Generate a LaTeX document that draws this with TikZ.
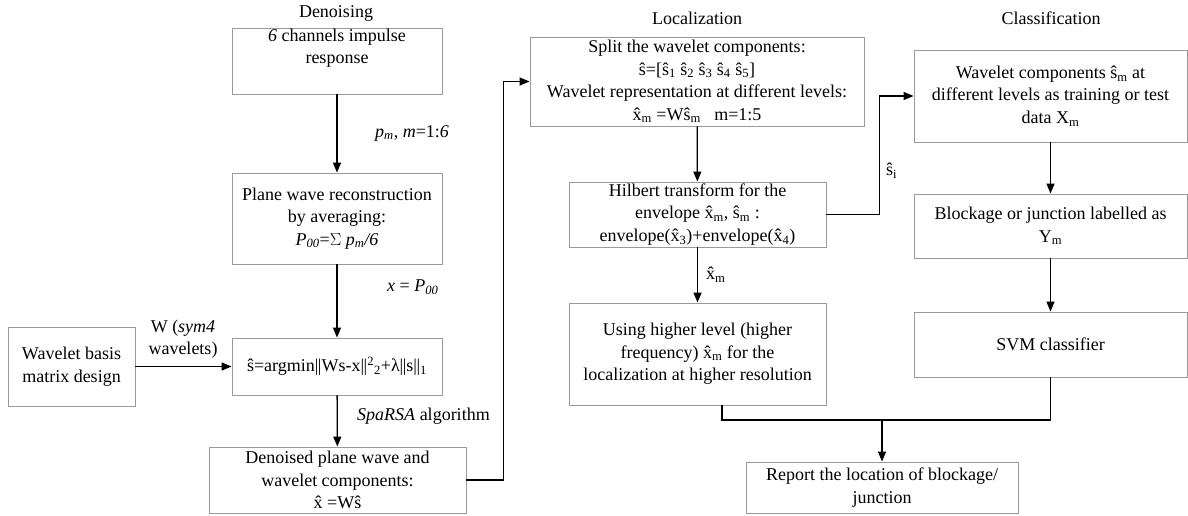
\documentclass[tikz,border=0pt]{standalone}
\usepackage{fontspec}
\setmainfont{Liberation Serif}
\usetikzlibrary{arrows.meta}
\definecolor{boxgray}{HTML}{9A9A9A}
\tikzset{
  box/.style={draw=boxgray, line width=0.9pt, inner sep=0pt, align=center,
    font=\fontsize{18}{22.5}\selectfont},
  lbl/.style={inner sep=0pt, align=center, font=\fontsize{18}{22.5}\selectfont},
  conn/.style={draw=black, line width=1.3pt},
  arr/.style={conn, -{Triangle[length=10pt,width=8pt]}}
}
\newcommand{\hx}{\^{x}}
\newcommand{\hs}{\^{s}}
\newcommand{\sub}[1]{\textsubscript{#1}}
\begin{document}
\begin{tikzpicture}[x=1pt,y=-1pt]
\useasboundingbox (0,0) rectangle (1188,515);

% headers
\node[lbl] (hden) at (336,13) {Denoising};
\node[lbl] (hloc) at (697,18) {Localization};
\node[lbl] (hcls) at (1051,18) {Classification};

% Denoising column
\node[box, minimum width=210pt, minimum height=66pt] (imp) at (337,61)
  {\textit{6} channels impulse\\response\\\strut};
\node[box, minimum width=210pt, minimum height=91pt] (pw) at (337,218.5)
  {Plane wave reconstruction\\by averaging:\\\textit{P\sub{00}}=$\Sigma$ \textit{p\sub{m}/6}};
\node[box, minimum width=210pt, minimum height=57pt] (amin) at (337,366.5)
  {\hs=argmin|\kern-0.5pt|Ws-x|\kern-0.5pt|\textsuperscript{2}\sub{2}+λ|\kern-0.5pt|s|\kern-0.5pt|\sub{1}};
\node[box, minimum width=127pt, minimum height=79pt] (wb) at (71.5,366.5)
  {Wavelet basis\\matrix design};
\node[box, minimum width=257pt, minimum height=66pt] (den) at (337.5,480)
  {Denoised plane wave and\\wavelet components:\\\hx{} =W\hs};

% Localization column
\node[box, minimum width=334pt, minimum height=89pt] (spl) at (697,81.5)
  {Split the wavelet components:\\
   \hs=[\hs\sub{1} \hs\sub{2} \hs\sub{3} \hs\sub{4} \hs\sub{5}]\\
   Wavelet representation at different levels:\\
   \hx\sub{m} =W\hs\sub{m}\ \ \ m=1:5};
\node[box, minimum width=257pt, minimum height=65pt] (hil) at (697.5,214.5)
  {Hilbert transform for the\\envelope \hx\sub{m}, \hs\sub{m} :\\
   envelope(\hx\sub{3})+envelope(\hx\sub{4})};
\node[box, minimum width=257pt, minimum height=102pt] (use) at (697.5,354)
  {Using higher level (higher\\frequency) \hx\sub{m} for the\\localization at higher resolution};
\node[box, minimum width=272pt, minimum height=51pt] (rep) at (882,487.5)
  {Report the location of blockage/\\junction};

% Classification column
\node[box, minimum width=273pt, minimum height=92pt] (wc) at (1050.5,96)
  {Wavelet components \hs\sub{m}\ at\\different levels as training or test\\data X\sub{m}};
\node[box, minimum width=273pt, minimum height=64pt] (blk) at (1050.5,226)
  {Blockage or junction labelled as\\Y\sub{m}};
\node[box, minimum width=273pt, minimum height=65pt] (svm) at (1050.5,344.5)
  {SVM classifier};

% connectors
\draw[arr] (imp) -- (pw);
\node[lbl, anchor=west] (l1) at (375,133) {\textit{p\sub{m}}, \textit{m}=1:\textit{6}};
\draw[arr] (pw) -- (amin);
\node[lbl, anchor=west] (l2) at (387,287) {\textit{x} = \textit{P\sub{00}}};
\draw[arr] (wb) -- (amin);
\node[lbl] (l3) at (183,339) {W (\textit{sym4}\\wavelets)};
\draw[arr] (amin) -- (den);
\node[lbl, anchor=west] (l4) at (357,416) {\textit{SpaRSA} algorithm};
\draw[arr] (den.east) -- ++(37,0) |- (spl.west);

\draw[arr] (spl) -- (hil);
\draw[arr] (hil.east) -- ++(53,0) |- (wc.west);
\node[lbl, anchor=west] (l5) at (886,171) {\hs\sub{i}};
\draw[arr] (hil) -- (use);
\node[lbl, anchor=west] (l6) at (706,275) {\hx\sub{m}};

\draw[arr] (wc) -- (blk);
\draw[arr] (blk) -- (svm);

\coordinate (j) at (882,420);
\draw[conn] ([xshift=24.5pt]use.south) |- (j) -| (svm.south);
\draw[arr] (j) -- (rep.north);
\end{tikzpicture}
\end{document}
